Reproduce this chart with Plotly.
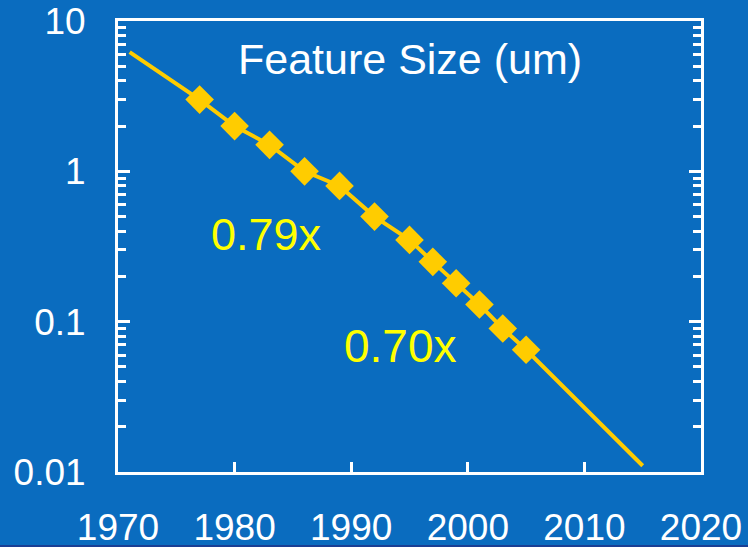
import plotly.graph_objects as go

# Data
years = [1977, 1980, 1983, 1986, 1989, 1992, 1995, 1997, 1999, 2001, 2003, 2005]
feature_um = [3.0, 2.0, 1.5, 1.0, 0.8, 0.5, 0.35, 0.25, 0.18, 0.13, 0.09, 0.065]
trend_years = [1971, 1977, 1980, 1983, 1986, 1989, 1992, 1995, 1997, 1999, 2001, 2003, 2005, 2015]
trend_um = [6.2, 3.0, 2.0, 1.5, 1.0, 0.8, 0.5, 0.35, 0.25, 0.18, 0.13, 0.09, 0.065, 0.011]
y_tickvals = [0.01, 0.1, 1, 10]
y_ticktext = ["0.01", "0.1", "1", "10"]
y_minor = [m * d for d in (0.01, 0.1, 1) for m in range(2, 10)]
x_tickvals = [1970, 1980, 1990, 2000, 2010, 2020]

BG = "#0a6cbf"
GOLD = "#ffcc00"
FONT = "Liberation Sans, Arial, sans-serif"

fig = go.Figure()
fig.add_trace(go.Scatter(x=trend_years, y=trend_um, mode="lines",
                         line=dict(color=GOLD, width=4), hoverinfo="skip"))
fig.add_trace(go.Scatter(x=years, y=feature_um, mode="markers",
                         marker=dict(symbol="diamond", size=22, color=GOLD,
                                     line=dict(width=0))))

fig.update_layout(
    template="none",
    width=748, height=547,
    paper_bgcolor=BG, plot_bgcolor=BG,
    margin=dict(l=118, r=47, t=21, b=75),
    showlegend=False,
    font=dict(family=FONT, color="white", size=37),
    xaxis=dict(range=[1970, 2020], tickvals=x_tickvals, ticks="inside",
               ticklen=10, tickwidth=3, tickcolor="white", automargin=False,
               showline=True, linewidth=3, linecolor="white", mirror=True,
               showgrid=False, zeroline=False, ticklabelstandoff=21,
               ticklabeloverflow="allow",
               tickfont=dict(size=37, color="white", family=FONT)),
    yaxis=dict(type="log", range=[-2, 1], tickvals=y_tickvals, ticktext=y_ticktext,
               ticks="inside", ticklen=12, tickwidth=3, tickcolor="white",
               automargin=False, ticklabeloverflow="allow",
               showline=True, linewidth=3, linecolor="white", mirror="ticks",
               showgrid=False, zeroline=False, ticklabelstandoff=22,
               minor=dict(tickvals=y_minor, ticks="inside", ticklen=8,
                          tickwidth=3, tickcolor="white", showgrid=False),
               tickfont=dict(size=37, color="white", family=FONT)),
)

fig.add_shape(type="rect", xref="paper", yref="paper",
              x0=-0.3, x1=1.2, y0=-75 / 451, y1=-73 / 451,
              line=dict(width=0), fillcolor="#1a3f94", layer="above")

ann = dict(xref="paper", yref="paper", showarrow=False,
           xanchor="center", yanchor="middle")
fig.add_annotation(text="Feature Size (um)", x=0.50, y=0.915,
                   font=dict(size=43, color="white", family=FONT), **ann)
fig.add_annotation(text="0.79x", x=0.255, y=0.527,
                   font=dict(size=45, color="#ffff00", family=FONT), **ann)
fig.add_annotation(text="0.70x", x=0.484, y=0.279,
                   font=dict(size=46, color="#ffff00", family=FONT), **ann)

fig.write_html("out.html", config={"displayModeBar": False},
               post_script="document.body.style.margin='0';document.body.style.background='%s';" % BG)
